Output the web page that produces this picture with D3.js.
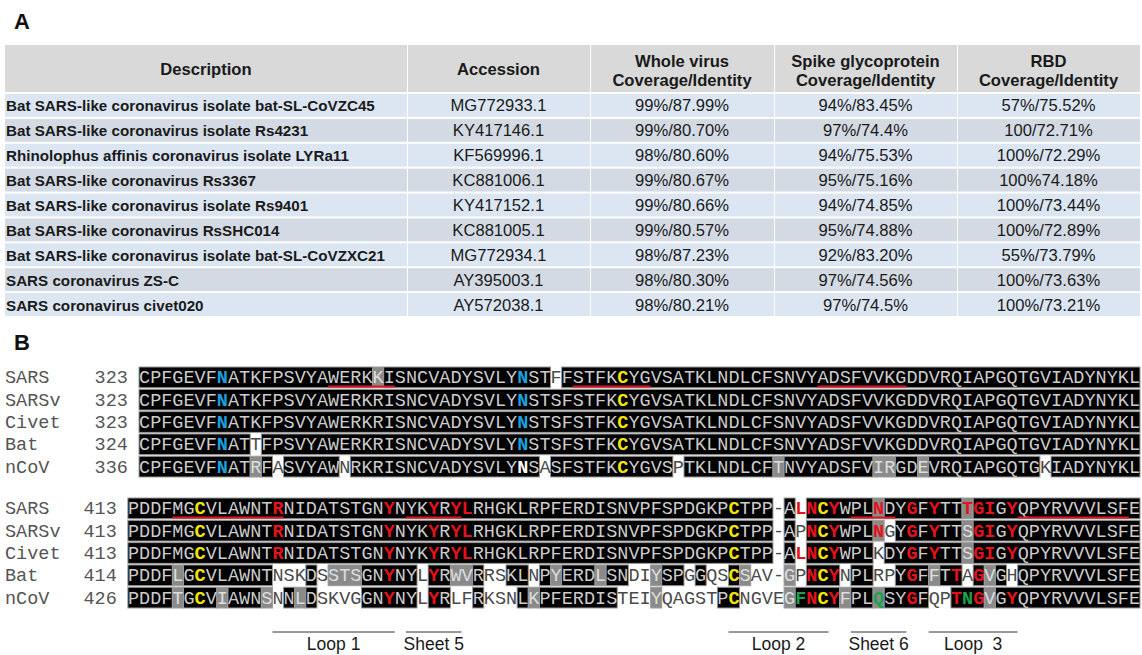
<!DOCTYPE html>
<html>
<head>
<meta charset="utf-8">
<script src="https://cdn.jsdelivr.net/npm/d3@7"></script>
<style>
	body { margin: 0; background: #fff; }
	svg { display: block; }
</style>
</head>
<body>
<svg id="fig" width="1142" height="655"></svg>
<script>
// ---------- panel A : table ----------
const headers = [["Description"], ["Accession"], ["Whole virus", "Coverage/Identity"], ["Spike glycoprotein", "Coverage/Identity"], ["RBD", "Coverage/Identity"]]
const descriptions = [
	"Bat SARS-like coronavirus isolate bat-SL-CoVZC45",
	"Bat SARS-like coronavirus isolate Rs4231",
	"Rhinolophus affinis coronavirus isolate LYRa11",
	"Bat SARS-like coronavirus Rs3367",
	"Bat SARS-like coronavirus isolate Rs9401",
	"Bat SARS-like coronavirus RsSHC014",
	"Bat SARS-like coronavirus isolate bat-SL-CoVZXC21",
	"SARS coronavirus ZS-C",
	"SARS coronavirus civet020"
]
const accessions = ["MG772933.1", "KY417146.1", "KF569996.1", "KC881006.1", "KY417152.1", "KC881005.1", "MG772934.1", "AY395003.1", "AY572038.1"]
const wholeVirus = ["99%/87.99%", "99%/80.70%", "98%/80.60%", "99%/80.67%", "99%/80.66%", "99%/80.57%", "98%/87.23%", "98%/80.30%", "98%/80.21%"]
const spike = ["94%/83.45%", "97%/74.4%", "94%/75.53%", "95%/75.16%", "94%/74.85%", "95%/74.88%", "92%/83.20%", "97%/74.56%", "97%/74.5%"]
const rbd = ["57%/75.52%", "100/72.71%", "100%/72.29%", "100%74.18%", "100%/73.44%", "100%/72.89%", "55%/73.79%", "100%/73.63%", "100%/73.21%"]

// ---------- panel B : alignment ----------
const seqNames = ["SARS", "SARSv", "Civet", "Bat", "nCoV"]

const block1Start = [323, 323, 323, 324, 336]
const block1Seqs = [
	"CPFGEVFNATKFPSVYAWERKKISNCVADYSVLYNSTFFSTFKCYGVSATKLNDLCFSNVYADSFVVKGDDVRQIAPGQTGVIADYNYKL",
	"CPFGEVFNATKFPSVYAWERKRISNCVADYSVLYNSTSFSTFKCYGVSATKLNDLCFSNVYADSFVVKGDDVRQIAPGQTGVIADYNYKL",
	"CPFGEVFNATKFPSVYAWERKRISNCVADYSVLYNSTSFSTFKCYGVSATKLNDLCFSNVYADSFVVKGDDVRQIAPGQTGVIADYNYKL",
	"CPFGEVFNATTFPSVYAWERKRISNCVADYSVLYNSTSFSTFKCYGVSATKLNDLCFSNVYADSFVVKGDDVRQIAPGQTGVIADYNYKL",
	"CPFGEVFNATRFASVYAWNRKRISNCVADYSVLYNSASFSTFKCYGVSPTKLNDLCFTNVYADSFVIRGDEVRQIAPGQTGKIADYNYKL"
]
const block1Gray = [[21], [], [], [], [10, 57, 66, 67, 70]]
const block1White = [[37], [], [], [10], [12, 18, 36, 48, 81]]
const block1Blue = [[7, 34], [7, 34], [7, 34], [7, 34], [7]]
const block1Yellow = [[43], [43], [43], [43], [43]]
const block1Red = [[], [], [], [], []]
const block1Green = [[], [], [], [], []]
const block1Bold = [[], [], [], [], [34]]
const block1Underline = [[17, 22], [39, 45], [61, 68]]

const block2Start = [413, 413, 413, 414, 426]
const block2Seqs = [
	"PDDFMGCVLAWNTRNIDATSTGNYNYKYRYLRHGKLRPFERDISNVPFSPDGKPCTPP-ALNCYWPLNDYGFYTTTGIGYQPYRVVVLSFE",
	"PDDFMGCVLAWNTRNIDATSTGNYNYKYRYLRHGKLRPFERDISNVPFSPDGKPCTPP-APNCYWPLNGYGFYTTSGIGYQPYRVVVLSFE",
	"PDDFMGCVLAWNTRNIDATSTGNYNYKYRYLRHGKLRPFERDISNVPFSPDGKPCTPP-ALNCYWPLKDYGFYTTSGIGYQPYRVVVLSFE",
	"PDDFLGCVLAWNTNSKDSSTSGNYNYLYRWVRRSKLNPYERDLSNDIYSPGGQSCSAV-GPNCYNPLRPYGFFTTAGVGHQPYRVVVLSFE",
	"PDDFTGCVIAWNSNNLDSKVGGNYNYLYRLFRKSNLKPFERDISTEIYQAGSTPCNGVEGFNCYFPLQSYGFQPTNGVGYQPYRVVVLSFE"
]
const block2Gray = [
	[67, 75],
	[67, 75],
	[75],
	[4, 18, 19, 20, 29, 30, 38, 42, 47, 55, 59, 72, 77],
	[4, 8, 12, 15, 36, 47, 59, 64, 67, 77]
]
const block2White = [
	[58, 60],
	[58, 60, 68],
	[58, 60, 67],
	[13, 14, 15, 17, 26, 32, 33, 36, 45, 46, 50, 52, 53, 56, 57, 58, 60, 64, 67, 68, 75, 79],
	[13, 17, 18, 19, 20, 26, 29, 30, 32, 33, 34, 44, 45, 46, 48, 49, 50, 51, 52, 55, 56, 57, 58, 72, 73]
]
const block2Blue = [[], [], [], [], []]
const block2Yellow = [[6, 54, 62], [6, 54, 62], [6, 54, 62], [6, 54, 62], [6, 54, 62]]
const block2Red = [
	[13, 23, 27, 29, 30, 60, 61, 63, 67, 70, 72, 75, 76, 77, 79],
	[13, 23, 27, 29, 30, 61, 63, 67, 70, 72, 76, 77, 79],
	[13, 23, 27, 29, 30, 60, 61, 63, 70, 72, 76, 77, 79],
	[23, 27, 61, 63, 70, 74, 76],
	[23, 27, 61, 63, 70, 74, 76, 79]
]
const block2Green = [[], [], [], [], [60, 67, 75]]
const block2Bold = [[], [], [], [], []]
const block2Underline = [[4, 13], [25, 29], [65, 68], [80, 89]]

const structureLabels = ["Loop 1", "Sheet 5", "Loop 2", "Sheet 6", "Loop  3"]
const structureSpans = [[13, 23], [25, 29], [54, 62], [65, 69], [72, 79]]

// ---------- drawing ----------
const svg = d3.select("#fig")
const sans = "'Liberation Sans', Arial, sans-serif"
const mono = "'Liberation Mono', 'Courier New', monospace"

function panelLetter(text, y) {
	svg.append("text")
		.attr("x", 14).attr("y", y)
		.attr("font-family", sans).attr("font-weight", "bold").attr("font-size", 22)
		.attr("fill", "#111")
		.text(text)
}

panelLetter("A", 29)
panelLetter("B", 350)

// table
const colEdges = [5, 407, 590, 774, 957, 1140]
const columns = [descriptions, accessions, wholeVirus, spike, rbd]
const headTop = 45, headBottom = 92
const rowY = d3.scaleBand().domain(d3.range(descriptions.length)).range([headBottom + 2, 316]).paddingInner(0.08)
const rowFill = ["#dce6f2", "#d4dae4"]

const tableG = svg.append("g")

columns.forEach((col, ci) => {
	const x0 = colEdges[ci], x1 = colEdges[ci + 1]
	tableG.append("rect")
		.attr("x", x0 + (ci ? 1 : 0)).attr("y", headTop)
		.attr("width", x1 - x0 - (ci ? 1 : 0)).attr("height", headBottom - headTop)
		.attr("fill", "#d9d9d9")
	const lines = headers[ci]
	tableG.append("text")
		.attr("x", (x0 + x1) / 2).attr("y", lines.length > 1 ? 67 : 75)
		.attr("text-anchor", "middle")
		.attr("font-family", sans).attr("font-weight", "bold").attr("font-size", 16.6)
		.attr("fill", "#1a1a1a")
		.selectAll("tspan").data(lines).join("tspan")
		.attr("x", (x0 + x1) / 2).attr("dy", (d, i) => i ? 18.5 : 0)
		.text(d => d)

	tableG.selectAll(null).data(col).join("rect")
		.attr("x", x0 + (ci ? 1 : 0)).attr("y", (d, i) => rowY(i))
		.attr("width", x1 - x0 - (ci ? 1 : 0)).attr("height", rowY.bandwidth())
		.attr("fill", (d, i) => rowFill[i % 2])

	tableG.selectAll(null).data(col).join("text")
		.attr("x", ci ? (x0 + x1) / 2 : x0 + 1)
		.attr("y", (d, i) => rowY(i) + rowY.bandwidth() / 2 + 6)
		.attr("text-anchor", ci ? "middle" : "start")
		.attr("font-family", sans)
		.attr("font-weight", ci ? "normal" : "bold")
		.attr("font-size", ci ? 16.6 : 15.2)
		.attr("fill", "#1a1a1a")
		.text(d => d)
})

// alignment
const cw = (1140 - 139) / 90
const bgFill = { k: "#000", g: "#8a8a8a" }
const textFill = { k: "#cccccc", g: "#dedede", w: "#4a4a4a" }
const markFill = { blue: "#1ba1de", yellow: "#f4e500", red: "#e5121b", green: "#19a34a", bold: "#ffffff" }

function drawBlock(cfg) {
	const g = svg.append("g")
	const n = cfg.seqs[0].length
	const x = d3.scaleBand().domain(d3.range(n)).range([cfg.left, cfg.left + n * cw])
	const y = d3.scaleBand().domain(seqNames).range([cfg.top, cfg.top + seqNames.length * 22]).paddingInner(0.07)

	seqNames.forEach((name, r) => {
		const seq = cfg.seqs[r]
		const cells = d3.range(n).map(i => {
			let bg = "k"
			if (cfg.gray[r].includes(i)) bg = "g"
			if (cfg.white[r].includes(i)) bg = "w"
			let mark = null
			for (const key of ["blue", "yellow", "red", "green", "bold"]) {
				if (cfg[key][r].includes(i)) mark = key
			}
			return { i, ch: seq[i], bg, mark }
		})

		// merge neighbouring cells of the same shade into boxes
		const runs = []
		cells.forEach(c => {
			const last = runs[runs.length - 1]
			if (last && last.bg === c.bg && last.end === c.i - 1) last.end = c.i
			else runs.push({ bg: c.bg, start: c.i, end: c.i })
		})

		g.selectAll(null).data(runs.filter(d => d.bg !== "w")).join("rect")
			.attr("x", d => x(d.start))
			.attr("y", y(name))
			.attr("width", d => x(d.end) + x.bandwidth() - x(d.start))
			.attr("height", y.bandwidth())
			.attr("fill", d => bgFill[d.bg])
			.attr("stroke", "#9a9a9a")
			.attr("stroke-width", 1)

		const baseY = y(name) + y.bandwidth() / 2 + 6
		g.append("text")
			.attr("x", 5).attr("y", baseY)
			.attr("font-family", mono).attr("font-size", 18.5).attr("fill", "#555")
			.text(name)
		g.append("text")
			.attr("x", cfg.left - cw).attr("y", baseY)
			.attr("text-anchor", "end")
			.attr("font-family", mono).attr("font-size", 18.5).attr("fill", "#555")
			.text(cfg.start[r])

		g.selectAll(null).data(cells).join("text")
			.attr("x", d => x(d.i) + x.bandwidth() / 2)
			.attr("y", baseY)
			.attr("text-anchor", "middle")
			.attr("font-family", mono)
			.attr("font-size", 18.5)
			.attr("font-weight", d => d.mark ? "bold" : "normal")
			.attr("fill", d => d.mark ? markFill[d.mark] : textFill[d.bg])
			.text(d => d.ch)

		if (r === 0) {
			g.selectAll(null).data(cfg.underline).join("line")
				.attr("x1", d => x(d[0]))
				.attr("x2", d => x(d[1]) + x.bandwidth())
				.attr("y1", baseY + 3).attr("y2", baseY + 3)
				.attr("stroke", "#e0141c").attr("stroke-width", 2)
		}
	})
	return x
}

drawBlock({
	seqs: block1Seqs, start: block1Start, left: 139, top: 367,
	gray: block1Gray, white: block1White, blue: block1Blue, yellow: block1Yellow,
	red: block1Red, green: block1Green, bold: block1Bold, underline: block1Underline
})

const x2 = drawBlock({
	seqs: block2Seqs, start: block2Start, left: 139 - cw, top: 498,
	gray: block2Gray, white: block2White, blue: block2Blue, yellow: block2Yellow,
	red: block2Red, green: block2Green, bold: block2Bold, underline: block2Underline
})

// secondary structure marks
const annG = svg.append("g")
annG.selectAll("line").data(structureSpans).join("line")
	.attr("x1", d => x2(d[0]))
	.attr("x2", d => x2(d[1]) + x2.bandwidth())
	.attr("y1", 632).attr("y2", 632)
	.attr("stroke", "#333").attr("stroke-width", 1)
annG.selectAll("text").data(structureLabels).join("text")
	.attr("x", (d, i) => (x2(structureSpans[i][0]) + x2(structureSpans[i][1]) + x2.bandwidth()) / 2)
	.attr("y", 650)
	.attr("text-anchor", "middle")
	.attr("font-family", sans).attr("font-size", 17.5).attr("fill", "#1a1a1a")
	.style("white-space", "pre")
	.text(d => d)
</script>
</body>
</html>
